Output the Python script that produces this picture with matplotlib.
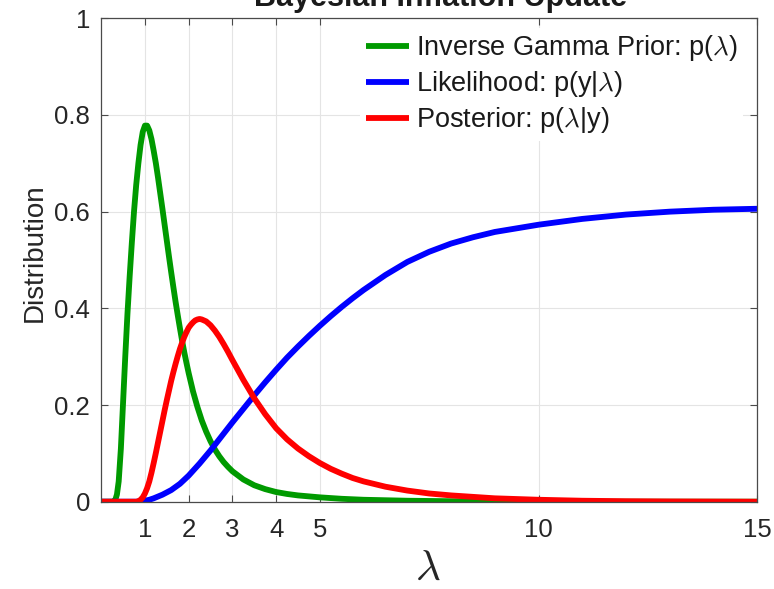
import matplotlib
matplotlib.use("Agg")
import matplotlib.pyplot as plt

# Prior: inverse gamma density p(lambda)
lam_prior = [0.0, 0.28, 0.32, 0.36, 0.40, 0.45, 0.50, 0.55, 0.60, 0.65, 0.70, 0.75,
             0.80, 0.85, 0.90, 0.95, 1.00, 1.05, 1.10, 1.15, 1.20, 1.25, 1.30, 1.35,
             1.40, 1.45, 1.50, 1.55, 1.60, 1.65, 1.70, 1.75, 1.80, 1.85, 1.90, 1.95,
             2.00, 2.10, 2.20, 2.30, 2.40, 2.50, 2.60, 2.70, 2.80, 2.90, 3.00, 3.25,
             3.50, 3.75, 4.00, 4.25, 4.50, 5.00, 5.50, 6.00, 6.50, 7.00, 8.00, 9.00,
             10.0, 15.0]
prior = [0.0, 0.0, 0.003, 0.015, 0.042, 0.11, 0.205, 0.30, 0.388, 0.465, 0.535, 0.60,
         0.655, 0.70, 0.738, 0.765, 0.778, 0.778, 0.768, 0.75, 0.726, 0.70, 0.67, 0.638,
         0.606, 0.573, 0.54, 0.507, 0.475, 0.444, 0.414, 0.386, 0.359, 0.333, 0.309, 0.287,
         0.266, 0.228, 0.196, 0.168, 0.145, 0.125, 0.108, 0.094, 0.082, 0.072, 0.063, 0.046,
         0.034, 0.026, 0.020, 0.016, 0.013, 0.009, 0.006, 0.004, 0.003, 0.002, 0.001, 0.0005,
         0.0, 0.0]

# Likelihood p(y|lambda)
lam_like = [0.0, 0.8, 0.9, 1.0, 1.1, 1.2, 1.4, 1.6, 1.8, 2.0, 2.25, 2.5, 2.75, 3.0,
            3.25, 3.5, 3.75, 4.0, 4.25, 4.5, 4.75, 5.0, 5.25, 5.5, 5.75, 6.0, 6.5,
            7.0, 7.5, 8.0, 8.5, 9.0, 10.0, 11.0, 12.0, 13.0, 14.0, 15.0]
like = [0.0, 0.0, 0.0007, 0.002, 0.004, 0.007, 0.0145, 0.024, 0.037, 0.054, 0.079,
        0.106, 0.135, 0.164, 0.192, 0.220, 0.247, 0.273, 0.298, 0.321, 0.343, 0.364,
        0.384, 0.403, 0.421, 0.438, 0.469, 0.496, 0.517, 0.534, 0.547, 0.558, 0.573,
        0.585, 0.594, 0.600, 0.604, 0.606]

# Posterior p(lambda|y)
lam_post = [0.0, 0.80, 0.85, 0.90, 0.95, 1.00, 1.05, 1.10, 1.15, 1.20, 1.25, 1.30,
            1.35, 1.40, 1.45, 1.50, 1.55, 1.60, 1.65, 1.70, 1.75, 1.80, 1.85, 1.90,
            1.95, 2.00, 2.05, 2.10, 2.15, 2.20, 2.25, 2.30, 2.40, 2.50, 2.60, 2.70,
            2.80, 2.90, 3.00, 3.25, 3.50, 3.75, 4.00, 4.25, 4.50, 4.75, 5.00, 5.25,
            5.50, 5.75, 6.00, 6.50, 7.00, 7.50, 8.00, 8.50, 9.00, 10.0, 11.0, 12.0,
            13.0, 15.0]
post = [0.0, 0.0, 0.001, 0.004, 0.009, 0.017, 0.028, 0.042, 0.060, 0.080, 0.101, 0.123,
        0.145, 0.167, 0.189, 0.210, 0.230, 0.250, 0.268, 0.285, 0.301, 0.316, 0.329, 0.341,
        0.351, 0.360, 0.366, 0.371, 0.375, 0.377, 0.378, 0.377, 0.373, 0.365, 0.354, 0.341,
        0.326, 0.310, 0.293, 0.252, 0.214, 0.181, 0.152, 0.129, 0.110, 0.094, 0.080, 0.068,
        0.058, 0.049, 0.042, 0.031, 0.023, 0.017, 0.013, 0.010, 0.007, 0.004, 0.002, 0.001,
        0.0005, 0.0]

x_ticks = [1, 2, 3, 4, 5, 10, 15]
y_ticks = [0, 0.2, 0.4, 0.6, 0.8, 1]
y_tick_labels = ["0", "0.2", "0.4", "0.6", "0.8", "1"]

labels = [r"Inverse Gamma Prior: p($\lambda$)",
          r"Likelihood: p(y|$\lambda$)",
          r"Posterior: p($\lambda$|y)"]

plt.rcParams["font.family"] = ["Liberation Sans", "DejaVu Sans"]
plt.rcParams["mathtext.fontset"] = "cm"

W, H = 774, 589
fig = plt.figure(figsize=(W / 100, H / 100), dpi=100)
ax = fig.add_axes([101.2 / W, 1 - 501.7 / H, 656.0 / W, 483.4 / H])

lw = 4.2
style = dict(lw=lw, solid_joinstyle="round", solid_capstyle="butt")
ax.plot(lam_prior, prior, color="#009a00", label=labels[0], **style)
ax.plot(lam_like, like, color="#0000ff", label=labels[1], **style)
ax.plot(lam_post, post, color="#ff0000", label=labels[2], **style)

ax.set_xlim(0, 15)
ax.set_ylim(0, 1)
ax.set_xticks(x_ticks)
ax.set_xticklabels([str(t) for t in x_ticks])
ax.set_yticks(y_ticks)
ax.set_yticklabels(y_tick_labels)

ax.grid(True, color="#e4e4e4", lw=0.8)
ax.set_axisbelow(True)
for s in ax.spines.values():
    s.set_color("#4a4a4a")
    s.set_linewidth(0.9)
ax.tick_params(direction="in", length=5, width=0.8, color="#4a4a4a",
               top=True, right=True, labelsize=18.5, labelcolor="#262626")
ax.tick_params(axis="y", pad=8)
ax.tick_params(axis="x", pad=12)

leg = ax.legend(loc="upper right", bbox_to_anchor=(0.979, 0.98), frameon=True,
                fontsize=19.5, handlelength=1.6, handletextpad=0.26,
                labelspacing=0.22, borderpad=0.2, borderaxespad=0.0)
leg.get_frame().set_edgecolor("none")
leg.get_frame().set_facecolor("white")
leg.get_frame().set_alpha(1.0)
for t in leg.get_texts():
    t.set_color("#1a1a1a")

fig.text(441 / W, 1 - 6 / H, "Bayesian Inflation Update", ha="center",
         va="baseline", fontsize=22, fontweight="bold", color="#1a1a1a")
fig.text(35 / W, 1 - 253 / H, "Distribution", rotation=90, ha="center",
         va="center", fontsize=20, color="#262626")
fig.text(428 / W, 1 - 569 / H, r"$\lambda$", ha="center", va="center",
         fontsize=31, color="#262626")

fig.savefig("out.png", dpi=100)
